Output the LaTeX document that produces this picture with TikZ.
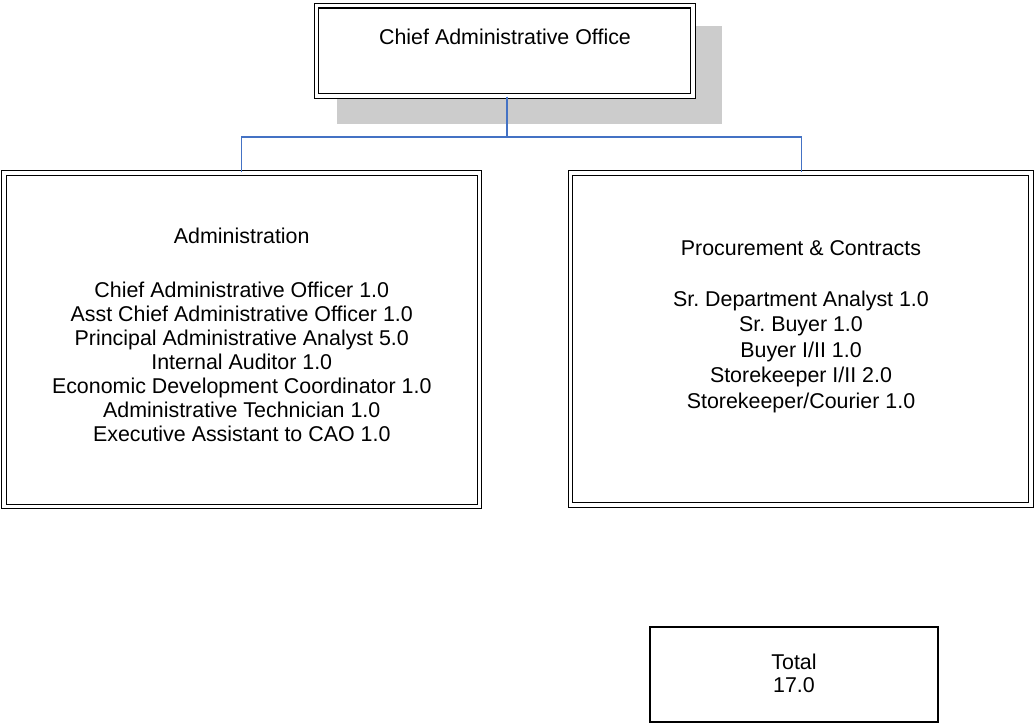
\documentclass[tikz,border=0pt]{standalone}
\usepackage{fontspec}
\setmainfont{Liberation Sans}
\frenchspacing
\definecolor{linkblue}{HTML}{4472C4}
\definecolor{shadowgray}{HTML}{CCCCCC}
\begin{document}
\begin{tikzpicture}[x=1pt,y=-1pt,
  every node/.style={font=\fontsize{21.4}{24}\selectfont},
  dblbox/.style={draw=black, fill=white, line width=1.2pt, double=white, double distance=3.2pt, inner sep=0pt},
  plainbox/.style={draw=black, fill=white, line width=1.3pt, inner sep=0pt},
  conn/.style={draw=linkblue, line width=1.5pt},
  txt/.style={anchor=base, inner sep=0pt}
]
\useasboundingbox (0,0) rectangle (1034,725);

% drop shadow behind the top box
\fill[shadowgray] (337,26) rectangle (722,124);

% boxes
\node[dblbox, minimum width=376.5pt, minimum height=90.2pt] (cao) at (504.75,50.9) {};
\node[dblbox, minimum width=475.5pt, minimum height=333.5pt] (adm) at (241.75,339.75) {};
\node[dblbox, minimum width=460.5pt, minimum height=332pt] (proc) at (800.75,339) {};
\node[plainbox, minimum width=288pt, minimum height=95pt] (tot) at (794,674.5) {};

% connectors
\coordinate (busc) at (507,137);
\coordinate (ltap) at (241.5,137);
\coordinate (rtap) at (801.5,137);
\draw[conn] (cao.south -| busc) -- (busc);
\draw[conn] (adm.north -| ltap) -- (ltap) -- (rtap) -- (proc.north -| rtap);

% texts
\node[txt] (caotxt) at (505,45) {Chief Administrative Office};

\node[txt] (admhead) at (241.75,243) {Administration};
\foreach \t [count=\i from 0] in {Chief Administrative Officer 1.0,
  Asst Chief Administrative Officer 1.0,
  Principal Administrative Analyst 5.0,
  Internal Auditor 1.0,
  Economic Development Coordinator 1.0,
  Administrative Technician 1.0,
  Executive Assistant to CAO 1.0}
  \node[txt] (adm\i) at (241.75,297+24*\i) {\t};

\node[txt] (prochead) at (801,255) {Procurement \& Contracts};
\foreach \t [count=\i from 0] in {Sr. Department Analyst 1.0,
  Sr. Buyer 1.0,
  Buyer I/II 1.0,
  Storekeeper I/II 2.0,
  Storekeeper/Courier 1.0}
  \node[txt] (proc\i) at (801,306+25.5*\i) {\t};

\node[txt] (tot0) at (794,669) {Total};
\node[txt] (tot1) at (794,692.5) {17.0};
\end{tikzpicture}
\end{document}
